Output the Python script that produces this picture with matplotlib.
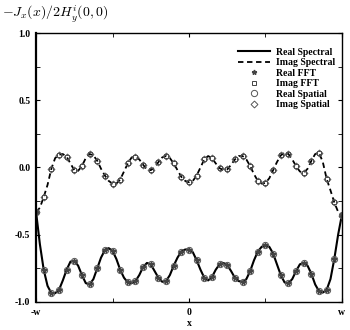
import numpy as np
import matplotlib.pyplot as plt
from matplotlib.ticker import FixedLocator

# posicoes ao longo da fita (em unidades de w)
x_spec = np.arange(81) * 0.025 - 1.0

# curva real (espectral)
real_spec = [-0.33, -0.57, -0.76, -0.88, -0.935, -0.935, -0.91, -0.84, -0.76, -0.70,
             -0.695, -0.73, -0.80, -0.86, -0.87, -0.83, -0.75, -0.67, -0.615, -0.60,
             -0.62, -0.68, -0.76, -0.82, -0.855, -0.86, -0.845, -0.80, -0.74, -0.71,
             -0.72, -0.77, -0.82, -0.85, -0.845, -0.80, -0.73, -0.67, -0.625, -0.61,
             -0.61, -0.63, -0.69, -0.76, -0.82, -0.84, -0.815, -0.76, -0.72, -0.71,
             -0.725, -0.77, -0.82, -0.845, -0.85, -0.83, -0.77, -0.69, -0.625, -0.59,
             -0.58, -0.59, -0.64, -0.72, -0.80, -0.855, -0.86, -0.83, -0.77, -0.72,
             -0.71, -0.73, -0.79, -0.87, -0.92, -0.93, -0.91, -0.83, -0.68, -0.50,
             -0.35]

# curva imaginaria (espectral)
imag_spec = [-0.33, -0.30, -0.22, -0.13, -0.01, 0.07, 0.095, 0.10, 0.08, 0.03,
             -0.02, -0.025, 0.01, 0.07, 0.10, 0.09, 0.05, -0.01, -0.06, -0.10,
             -0.12, -0.12, -0.09, -0.03, 0.03, 0.075, 0.08, 0.06, 0.02, -0.015,
             -0.02, 0.00, 0.04, 0.075, 0.085, 0.07, 0.03, -0.02, -0.07, -0.10,
             -0.11, -0.10, -0.06, 0.00, 0.06, 0.085, 0.07, 0.03, -0.005, -0.02,
             -0.015, 0.02, 0.06, 0.085, 0.085, 0.06, 0.01, -0.05, -0.10, -0.12,
             -0.115, -0.08, -0.02, 0.04, 0.09, 0.11, 0.10, 0.06, 0.01, -0.03,
             -0.04, -0.01, 0.05, 0.10, 0.11, 0.04, -0.085, -0.17, -0.26, -0.33,
             -0.36]

# pontos FFT e espaciais (a cada 0.05 w)
x_pts = x_spec[::2]
real_fft = real_spec[::2]
imag_fft = imag_spec[::2]
real_spatial = real_spec[::2]
imag_spatial = imag_spec[::2]

x_ticks = [-1, 0, 1]
x_ticklabels = ['-w', '0', 'w']
y_ticks = [-1.0, -0.5, 0.0, 0.5, 1.0]
y_ticklabels = ['-1.0', '-0.5', '0.0', '0.5', '1.0']

plt.rcParams['font.family'] = 'Liberation Serif'
plt.rcParams['font.weight'] = 'bold'
plt.rcParams['mathtext.fontset'] = 'cm'

fig = plt.figure(figsize=(3.5, 3.3), dpi=100)
ax = fig.add_axes([0.103, 0.085, 0.874, 0.815])

ax.plot(x_spec, real_spec, '-', color='black', lw=1.5, label='Real Spectral')
ax.plot(x_spec, imag_spec, '--', color='black', lw=1.3, dashes=(3, 2), label='Imag Spectral')
ax.plot(x_pts, real_fft, '*', color='#444444', ms=3.5, ls='none', label='Real FFT')
ax.plot(x_pts, imag_fft, 's', mfc='none', mec='#444444', ms=3, mew=0.7, ls='none', label='Imag FFT')
ax.plot(x_pts, real_spatial, 'o', mfc='none', mec='#555555', ms=4.5, mew=0.7, ls='none', label='Real Spatial')
ax.plot(x_pts, imag_spatial, 'D', mfc='none', mec='#555555', ms=3.5, mew=0.7, ls='none', label='Imag Spatial')

ax.set_xlim(-1, 1)
ax.set_ylim(-1, 1)
ax.xaxis.set_major_locator(FixedLocator(x_ticks))
ax.xaxis.set_minor_locator(FixedLocator([-0.5, 0.5]))
ax.set_xticklabels(x_ticklabels)
ax.yaxis.set_major_locator(FixedLocator(y_ticks))
ax.yaxis.set_minor_locator(FixedLocator([-0.75, -0.25, 0.25, 0.75]))
ax.set_yticklabels(y_ticklabels)
ax.tick_params(which='both', direction='in', top=True, right=True, labelsize=7, pad=4)
ax.tick_params(which='both', length=3)
for s in ax.spines.values():
    s.set_linewidth(1.0)
ax.spines['left'].set_linewidth(1.6)

ax.set_xlabel('x', fontsize=7, fontweight='bold', labelpad=2)
fig.text(0.005, 0.955, r'$-J_x(x)/2H_y^i(0,0)$', fontsize=10, ha='left', va='center')

ax.legend(loc='upper right', bbox_to_anchor=(1.0, 0.97), frameon=False, fontsize=7,
          handlelength=3.3, handletextpad=0.6, labelspacing=0.15, numpoints=1,
          borderaxespad=0.3)

plt.savefig('out.png', dpi=100)
